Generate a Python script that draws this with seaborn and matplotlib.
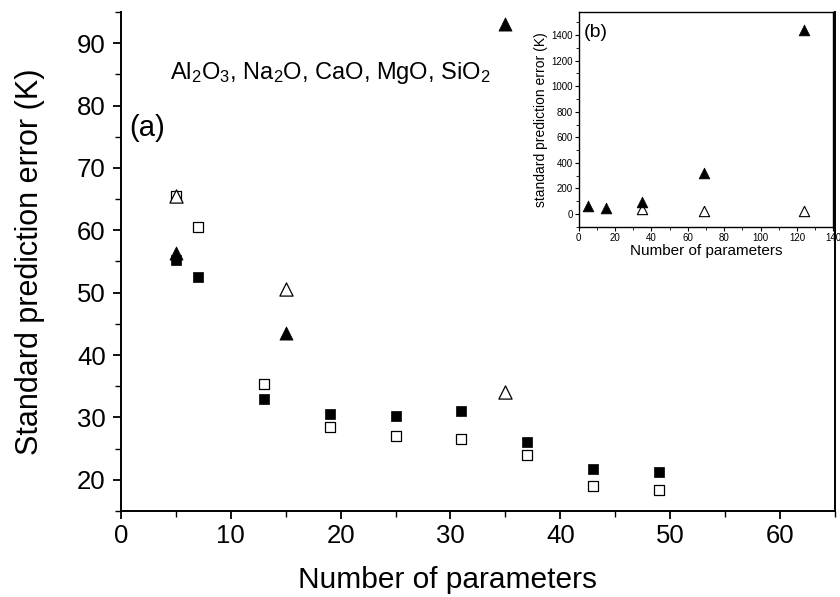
import matplotlib
matplotlib.use("Agg")
import matplotlib.pyplot as plt
import seaborn as sns
import pandas as pd
from matplotlib.ticker import MultipleLocator

# ---- data (main panel) ----
sq_filled_x = [5, 7, 13, 19, 25, 31, 37, 43, 49]
sq_filled_y = [55.3, 52.5, 33.0, 30.5, 30.3, 31.0, 26.1, 21.8, 21.3]
sq_open_x = [5, 7, 13, 19, 25, 31, 37, 43, 49]
sq_open_y = [65.5, 60.5, 35.3, 28.5, 27.0, 26.6, 24.0, 19.0, 18.3]
tri_filled_x = [5, 15, 35]
tri_filled_y = [56.3, 43.5, 93.0]
tri_open_x = [5, 15, 35]
tri_open_y = [65.5, 50.6, 34.0]

# ---- data (inset) ----
in_tri_filled_x = [5, 15, 35, 69, 124]
in_tri_filled_y = [63, 45, 97, 320, 1440]
in_tri_open_x = [35, 69, 124]
in_tri_open_y = [37, 26, 21]

sns.set_theme(style="ticks")
plt.rcParams['font.family'] = ['Liberation Sans', 'DejaVu Sans']
plt.rcParams['mathtext.default'] = 'regular'
for k in ['text.color', 'axes.labelcolor', 'xtick.color', 'ytick.color', 'axes.edgecolor']:
    plt.rcParams[k] = 'black'

fig = plt.figure(figsize=(8.4, 5.97), dpi=100)
ax = fig.add_axes([0.144, 0.144, 0.850, 0.836])

df_sf = pd.DataFrame({"x": sq_filled_x, "y": sq_filled_y})
df_so = pd.DataFrame({"x": sq_open_x, "y": sq_open_y})
df_tf = pd.DataFrame({"x": tri_filled_x, "y": tri_filled_y})
df_to = pd.DataFrame({"x": tri_open_x, "y": tri_open_y})

sns.scatterplot(data=df_so, x="x", y="y", ax=ax, marker="s", s=60,
                facecolor="white", edgecolor="black", linewidth=0.9, zorder=3)
sns.scatterplot(data=df_to, x="x", y="y", ax=ax, marker="^", s=90,
                facecolor="white", edgecolor="black", linewidth=0.9, zorder=4)
sns.scatterplot(data=df_sf, x="x", y="y", ax=ax, marker="s", s=60,
                color="black", edgecolor="black", linewidth=0.5, zorder=5)
sns.scatterplot(data=df_tf, x="x", y="y", ax=ax, marker="^", s=90,
                color="black", edgecolor="black", linewidth=0.5, zorder=6)

ax.set_xlim(0, 65)
ax.set_ylim(15, 95)
ax.xaxis.set_major_locator(MultipleLocator(10))
ax.xaxis.set_minor_locator(MultipleLocator(5))
ax.set_yticks([20, 30, 40, 50, 60, 70, 80, 90])
ax.yaxis.set_minor_locator(MultipleLocator(5))
ax.tick_params(which="major", direction="out", length=6, width=1.3, labelsize=18.5)
ax.tick_params(axis="y", which="major", pad=5)
ax.tick_params(which="minor", direction="out", length=4, width=1.0)
ax.spines["top"].set_visible(False)
for s in ["left", "bottom", "right"]:
    ax.spines[s].set_linewidth(1.4)
ax.set_xlabel("Number of parameters", fontsize=21.5, labelpad=13)
ax.xaxis.label.set_x(0.457)
ax.set_ylabel("Standard prediction error (K)", fontsize=22, labelpad=23)
ax.text(4.5, 85.2, r"Al$_2$O$_3$, Na$_2$O, CaO, MgO, SiO$_2$", fontsize=17, va="center")
ax.text(0.8, 76.4, "(a)", fontsize=21, va="center")

# ---- inset ----
ins = fig.add_axes([0.689, 0.620, 0.303, 0.360])
di_f = pd.DataFrame({"x": in_tri_filled_x, "y": in_tri_filled_y})
di_o = pd.DataFrame({"x": in_tri_open_x, "y": in_tri_open_y})
sns.scatterplot(data=di_o, x="x", y="y", ax=ins, marker="^", s=55,
                facecolor="white", edgecolor="black", linewidth=0.8, zorder=3)
sns.scatterplot(data=di_f, x="x", y="y", ax=ins, marker="^", s=60,
                color="black", edgecolor="black", linewidth=0.5, zorder=4)
ins.set_xlim(0, 140)
ins.set_ylim(-100, 1580)
ins.xaxis.set_major_locator(MultipleLocator(20))
ins.xaxis.set_minor_locator(MultipleLocator(10))
ins.set_yticks([0, 200, 400, 600, 800, 1000, 1200, 1400])
ins.yaxis.set_minor_locator(MultipleLocator(100))
ins.tick_params(which="major", direction="out", length=3, width=0.8, labelsize=7, pad=1.5)
ins.tick_params(which="minor", direction="out", length=2, width=0.6)
for s in ins.spines.values():
    s.set_linewidth(1.0)
ins.set_xlabel("Number of parameters", fontsize=11, labelpad=1)
ins.set_ylabel("standard prediction error (K)", fontsize=10, labelpad=2)
ins.text(3, 1420, "(b)", fontsize=14, va="center")

fig.savefig("out.png", dpi=100)
